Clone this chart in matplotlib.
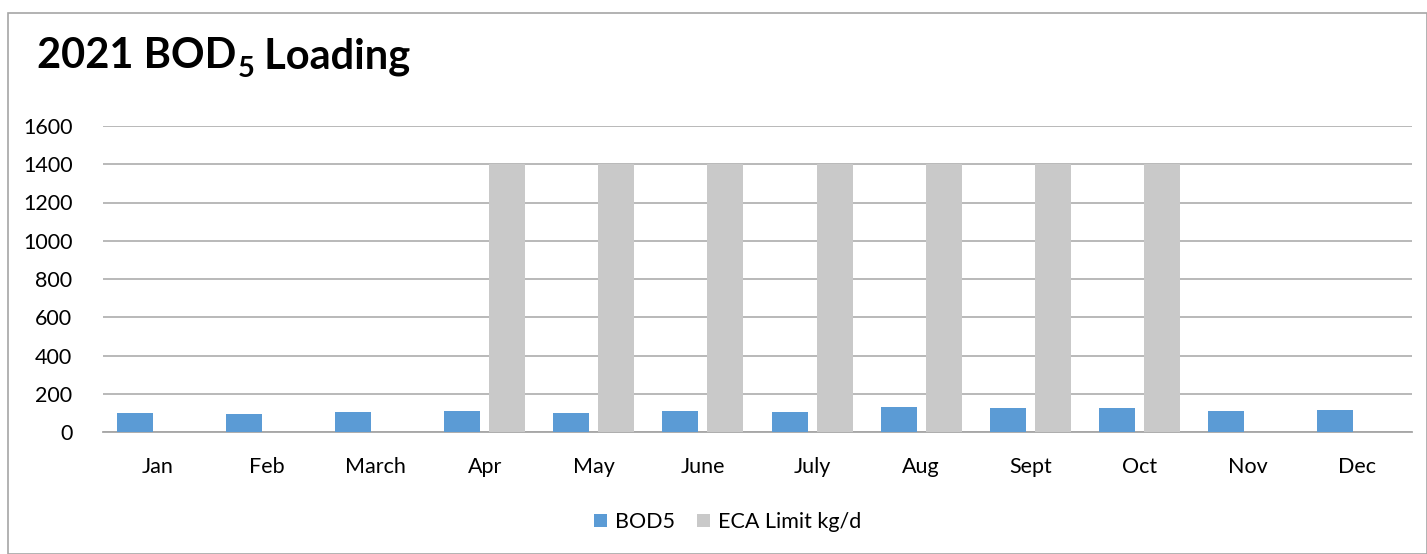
import matplotlib
matplotlib.use("Agg")
import matplotlib.pyplot as plt
from matplotlib.patches import Rectangle
import numpy as np

months = ["Jan", "Feb", "March", "Apr", "May", "June", "July", "Aug", "Sept", "Oct", "Nov", "Dec"]
bod5 = [97, 94, 104, 110, 99, 112, 104, 133, 124, 126, 110, 117]
eca_limit = [0, 0, 0, 1400, 1400, 1400, 1400, 1400, 1400, 1400, 0, 0]
yticks = [0, 200, 400, 600, 800, 1000, 1200, 1400, 1600]

plt.rcParams['font.family'] = ['Lato', 'DejaVu Sans']

W, H = 1427, 554
fig = plt.figure(figsize=(W / 100, H / 100), dpi=100)
ax = fig.add_axes([103 / W, 1 - 432 / H, (1412 - 103) / W, (432 - 126) / H])

x = np.arange(len(months))
bw = 0.33
off = 0.206
ax.bar(x - off, bod5, width=bw, color="#5B9BD5", label="BOD5", zorder=3)
eca_plot = [v if v > 0 else np.nan for v in eca_limit]
ax.bar(x + off, eca_plot, width=bw, color="#C9C9C9", label="ECA Limit kg/d", zorder=3)

ax.set_xlim(-0.5, len(months) - 0.5)
ax.set_ylim(0, 1600)
ax.set_yticks(yticks)
ax.set_yticklabels([str(t) for t in yticks], fontsize=15.5)
ax.set_xticks(x)
ax.set_xticklabels(months, fontsize=15.5)
ax.tick_params(axis='both', length=0)
ax.tick_params(axis='x', pad=18)
ax.tick_params(axis='y', pad=22)
ax.grid(axis='y', color="#A6A6A6", linewidth=1.1, zorder=0)
for s in ['top', 'right', 'left']:
    ax.spines[s].set_visible(False)
ax.spines['bottom'].set_color("#A6A6A6")
ax.spines['bottom'].set_linewidth(1.3)

leg = fig.legend(loc='center', bbox_to_anchor=(0.51, 1 - 522 / H), ncol=2, frameon=False,
                 fontsize=15.5, handlelength=0.6, handleheight=0.6, columnspacing=1.0,
                 handletextpad=0.4)

# Title with subscript
fig.canvas.draw()
r = fig.canvas.get_renderer()
ty = 1 - 68 / H
t1 = fig.text(37 / W, ty, "2021 BOD", fontsize=30, fontweight='bold', va='baseline')
bb = t1.get_window_extent(r)
t2 = fig.text(bb.x1 / W + 1 / W, ty - 9 / H, "5", fontsize=21, fontweight='bold', va='baseline')
bb2 = t2.get_window_extent(r)
fig.text(bb2.x1 / W, ty, " Loading", fontsize=30, fontweight='bold', va='baseline')

fig.patches.append(Rectangle((8 / W, 0), (W - 8) / W, 1 - 13 / H, transform=fig.transFigure,
                             fill=False, edgecolor="#A6A6A6", linewidth=1.2))

fig.savefig("out.png", dpi=100)
